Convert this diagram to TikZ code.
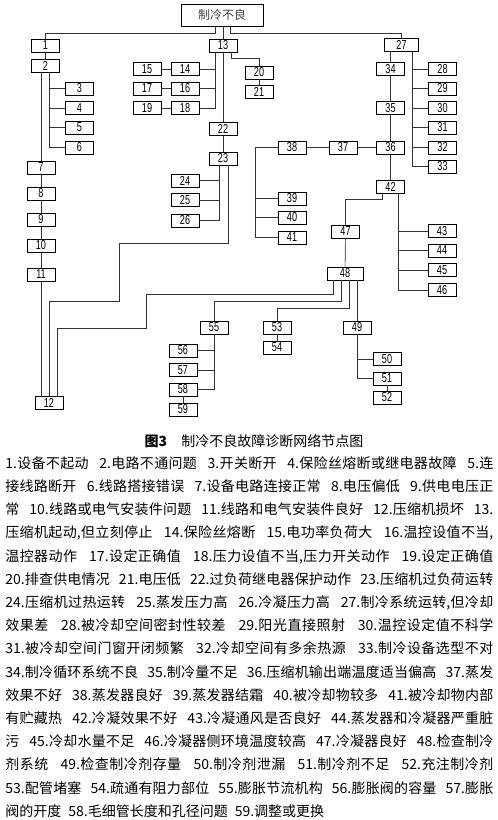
\documentclass[tikz,border=0pt]{standalone}
\usepackage{fontspec}
\setmainfont{Noto Sans CJK SC}
\newfontfamily\numfont[FakeStretch=0.7]{Liberation Sans}
\XeTeXlinebreaklocale "zh"
\XeTeXlinebreakskip=0pt plus 0.6pt

\begin{document}
\begin{tikzpicture}[x=1pt, y=-1pt, line width=0.7pt,
    box/.style={draw=black, line width=0.8pt, minimum width=28pt, minimum height=13pt, inner sep=0pt, font=\numfont\fontsize{13}{13}\selectfont},
    link/.style={draw=black!80}]
  \useasboundingbox (0,0) rectangle (498,820);

  % 根节点
  \node[draw=black, line width=0.8pt, minimum width=82pt, minimum height=22pt, inner sep=0pt, font=\fontsize{12}{12}\selectfont, text=black!75] (top) at (222,15) {制冷不良};

  % 左支
  \node[box] (n1) at (45.5,45.5) {1};
  \node[box] (n2) at (45.5,65.5) {2};
  \node[box] (n3) at (79.5,88.5) {3};
  \node[box] (n4) at (79.5,108) {4};
  \node[box] (n5) at (79.5,127.5) {5};
  \node[box] (n6) at (79.5,147.5) {6};
  \node[box] (n7) at (41,167.5) {7};
  \node[box] (n8) at (41,193.5) {8};
  \node[box] (n9) at (41,219.5) {9};
  \node[box] (n10) at (41,245.5) {10};
  \node[box] (n11) at (41,274.5) {11};
  \node[box] (n12) at (49,402.5) {12};

  % 中支
  \node[box] (n13) at (223,45.5) {13};
  \node[box] (n14) at (185,69) {14};
  \node[box] (n15) at (147,69) {15};
  \node[box] (n16) at (185,88.5) {16};
  \node[box] (n17) at (147,88.5) {17};
  \node[box] (n18) at (185,108) {18};
  \node[box] (n19) at (147,108) {19};
  \node[box] (n20) at (259,72.5) {20};
  \node[box] (n21) at (259,92) {21};
  \node[box] (n22) at (223,129) {22};
  \node[box] (n23) at (223,158.5) {23};
  \node[box] (n24) at (185,180.5) {24};
  \node[box] (n25) at (185,200) {25};
  \node[box] (n26) at (185,220.5) {26};

  % 右支
  \node[box, minimum width=34pt] (n27) at (401.5,45) {27};
  \node[box] (n28) at (442.5,69) {28};
  \node[box] (n29) at (442.5,88.5) {29};
  \node[box] (n30) at (442.5,108) {30};
  \node[box] (n31) at (442.5,127.5) {31};
  \node[box] (n32) at (442.5,147.5) {32};
  \node[box] (n33) at (442.5,166.5) {33};
  \node[box] (n34) at (390.5,69) {34};
  \node[box] (n35) at (390.5,108) {35};
  \node[box] (n36) at (390.5,147.5) {36};
  \node[box] (n37) at (343,147.5) {37};
  \node[box] (n38) at (292,147.5) {38};
  \node[box] (n39) at (292,198.5) {39};
  \node[box] (n40) at (292,217.5) {40};
  \node[box] (n41) at (292,237.5) {41};
  \node[box] (n42) at (390.5,186.5) {42};
  \node[box] (n43) at (442,231) {43};
  \node[box] (n44) at (442,250.5) {44};
  \node[box] (n45) at (442,270) {45};
  \node[box] (n46) at (442,290) {46};
  \node[box] (n47) at (345.5,231.5) {47};
  \node[box, minimum width=36pt] (n48) at (345,273.5) {48};
  \node[box] (n49) at (357,327.5) {49};
  \node[box] (n50) at (387,359) {50};
  \node[box] (n51) at (387,378.5) {51};
  \node[box] (n52) at (387,397.5) {52};
  \node[box] (n53) at (277,327.5) {53};
  \node[box] (n54) at (277,347.5) {54};
  \node[box] (n55) at (214,327.5) {55};
  \node[box] (n56) at (183,350.5) {56};
  \node[box] (n57) at (183,370) {57};
  \node[box] (n58) at (183,389.5) {58};
  \node[box] (n59) at (183,409.5) {59};

  % 分叉点
  \coordinate (b2) at ([xshift=4pt]n2.south);
  \coordinate (b13) at ([xshift=-8pt]n13.south);
  \coordinate (b23) at ([xshift=-4pt]n23.south);
  \coordinate (b27) at ([xshift=11pt]n27.south);
  \coordinate (b42) at ([xshift=8pt]n42.south);

  % 根节点连线
  \draw[link] ([xshift=-7pt]top.south) -- ++(0,7) -| (n1.north);
  \draw[link] (top.south -| n13.north) -- (n13.north);
  \draw[link] ([xshift=8pt]top.south) -- ++(0,7) -| (n27.north);

  % 左支连线
  \draw[link] (n1) -- (n2);
  \draw[link] (n7.north |- n2.south) -- (n7.north);
  \draw[link] (b2) |- (n6.west);
  \draw[link] (n3.west) -- (n3.west -| b2);
  \draw[link] (n4.west) -- (n4.west -| b2);
  \draw[link] (n5.west) -- (n5.west -| b2);
  \draw[link] (n7) -- (n8);
  \draw[link] (n8) -- (n9);
  \draw[link] (n9) -- (n10);
  \draw[link] (n10) -- (n11);
  \draw[link] (n11.south) -- (n11.south |- n12.north);

  % 中支连线
  \draw[link] (b13) |- (n18.east);
  \draw[link] (n14.east) -- (n14.east -| b13);
  \draw[link] (n16.east) -- (n16.east -| b13);
  \draw[link] (n15) -- (n14);
  \draw[link] (n17) -- (n16);
  \draw[link] (n19) -- (n18);
  \draw[link] ([xshift=8pt]n13.south) -- ++(0,6) -| (n20.north);
  \draw[link] (n20) -- (n21);
  \draw[link] (n13) -- (n22);
  \draw[link] (n22) -- (n23);
  \draw[link] (b23) |- (n26.east);
  \draw[link] (n24.east) -- (n24.east -| b23);
  \draw[link] (n25.east) -- (n25.east -| b23);
  \draw[link] ([xshift=5pt]n23.south) -- ++(0,78) -| ++(-109,58) -| (n12.north);

  % 右支连线
  \draw[link] (n34.north |- n27.south) -- (n34.north);
  \draw[link] (b27) |- (n33.west);
  \draw[link] (n28.west) -- (n28.west -| b27);
  \draw[link] (n29.west) -- (n29.west -| b27);
  \draw[link] (n30.west) -- (n30.west -| b27);
  \draw[link] (n31.west) -- (n31.west -| b27);
  \draw[link] (n32.west) -- (n32.west -| b27);
  \draw[link] (n34) -- (n35);
  \draw[link] (n35) -- (n36);
  \draw[link] (n36) -- (n42);
  \draw[link] (n36) -- (n37);
  \draw[link] (n37) -- (n38);
  \draw[link] (n38.west) -- ++(-22,0) |- (n41.west);
  \draw[link] (n39.west) -- ++(-22,0);
  \draw[link] (n40.west) -- ++(-22,0);
  \draw[link] ([xshift=-8pt]n42.south) -- ++(0,6) -| (n47.north);
  \draw[link] (b42) |- (n46.west);
  \draw[link] (n43.west) -- (n43.west -| b42);
  \draw[link] (n44.west) -- (n44.west -| b42);
  \draw[link] (n45.west) -- (n45.west -| b42);
  \draw[link] (n47) -- (n48);

  % 检查制冷剂系统以下
  \draw[link] ([xshift=-12pt]n48.south) -- ++(0,14) -| ++(-187,34) -| ([xshift=8pt]n12.north);
  \draw[link] ([xshift=-4pt]n48.south) -- ++(0,21) -| (n55.north);
  \draw[link] ([xshift=4pt]n48.south) -- ++(0,28) -| (n53.north);
  \draw[link] (n49.north |- n48.south) -- (n49.north);
  \draw[link] (n49.south) |- (n51.west);
  \draw[link] (n50.west) -- (n50.west -| n49.south);
  \draw[link] (n51) -- (n52);
  \draw[link] (n53) -- (n54);
  \draw[link] (n55.south) |- (n58.east);
  \draw[link] (n56.east) -- (n56.east -| n55.south);
  \draw[link] (n57.east) -- (n57.east -| n55.south);
  \draw[link] (n58) -- (n59);

  % 图题与说明
  \node[font=\fontsize{14}{14}\selectfont] (caption) at (254,441) {\textbf{图3}\quad 制冷不良故障诊断网络节点图};
  \node[anchor=north west, inner sep=0pt, text width=488pt, align=justify, font=\fontsize{14}{23.2}\selectfont] (notes) at (5,456) {%
    \tolerance=10000\hbadness=10000\spaceskip=0.5em plus 0.5em minus 0.1em\noindent
    1.设备不起动 2.电路不通问题 3.开关断开 4.保险丝熔断或继电器故障 5.连\linebreak
    接线路断开 6.线路搭接错误 7.设备电路连接正常 8.电压偏低 9.供电电压正\linebreak
    常 10.线路或电气安装件问题 11.线路和电气安装件良好 12.压缩机损坏 13.\linebreak
    压缩机起动,但立刻停止 14.保险丝熔断 15.电功率负荷大 16.温控设值不当,\linebreak
    温控器动作 17.设定正确值 18.压力设值不当,压力开关动作 19.设定正确值\linebreak
    20.排查供电情况 21.电压低 22.过负荷继电器保护动作 23.压缩机过负荷运转\linebreak
    24.压缩机过热运转 25.蒸发压力高 26.冷凝压力高 27.制冷系统运转,但冷却\linebreak
    效果差 28.被冷却空间密封性较差 29.阳光直接照射 30.温控设定值不科学\linebreak
    31.被冷却空间门窗开闭频繁 32.冷却空间有多余热源 33.制冷设备选型不对\linebreak
    34.制冷循环系统不良 35.制冷量不足 36.压缩机输出端温度适当偏高 37.蒸发\linebreak
    效果不好 38.蒸发器良好 39.蒸发器结霜 40.被冷却物较多 41.被冷却物内部\linebreak
    有贮藏热 42.冷凝效果不好 43.冷凝通风是否良好 44.蒸发器和冷凝器严重脏\linebreak
    污 45.冷却水量不足 46.冷凝器侧环境温度较高 47.冷凝器良好 48.检查制冷\linebreak
    剂系统 49.检查制冷剂存量 50.制冷剂泄漏 51.制冷剂不足 52.充注制冷剂\linebreak
    53.配管堵塞 54.疏通有阻力部位 55.膨胀节流机构 56.膨胀阀的容量 57.膨胀\linebreak
    阀的开度 58.毛细管长度和孔径问题 59.调整或更换};
\end{tikzpicture}
\end{document}
